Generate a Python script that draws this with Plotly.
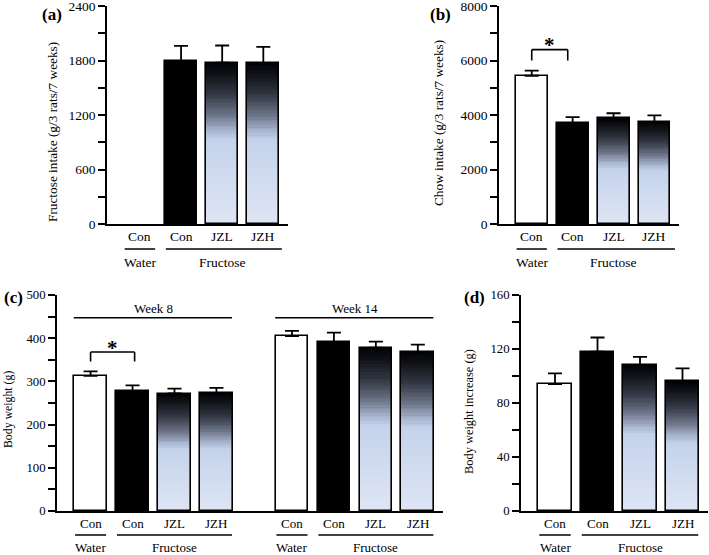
import plotly.graph_objects as go

# ---- data ----
cat_labels = ["Con", "Con", "JZL", "JZH"]
group_labels = ["Water", "Fructose"]
fills = ["white", "black", "grad", "grad"]

fructose_intake = [None, 1790, 1775, 1770]
fructose_err = [0, 172, 190, 180]

chow_intake = [5440, 3710, 3880, 3740]
chow_err = [185, 210, 185, 245]

bw_week8 = [313, 278, 272, 273]
bw_week8_err = [10, 13, 11.5, 12]
bw_week14 = [405, 391, 378, 368]
bw_week14_err = [12, 22, 14, 17]

bw_increase = [94, 118, 108, 96]
bw_increase_err = [8, 10.5, 6.2, 9.6]

ticks_a = [0, 300, 600, 900, 1200, 1500, 1800, 2100, 2400]
ticks_b = [0, 1000, 2000, 3000, 4000, 5000, 6000, 7000, 8000]
ticks_c = [0, 50, 100, 150, 200, 250, 300, 350, 400, 450, 500]
ticks_d = [0, 20, 40, 60, 80, 100, 120, 140, 160]

FONT = "Liberation Serif"
FS_TOP = 13.5
FS_BOT = 12.8
W, H = 709, 555

# gradient stops, t = 0 at top of bar, 1 at bottom
grad_stops = [
    (0.0, (2, 2, 6)),
    (0.08, (18, 20, 26)),
    (0.20, (52, 57, 69)),
    (0.32, (106, 114, 133)),
    (0.42, (168, 180, 206)),
    (0.48, (197, 210, 235)),
    (1.0, (222, 230, 244)),
]


def grad_color(t):
    for (t0, c0), (t1, c1) in zip(grad_stops[:-1], grad_stops[1:]):
        if t0 <= t <= t1:
            f = (t - t0) / (t1 - t0)
            c = [round(a + (b - a) * f) for a, b in zip(c0, c1)]
            return f"rgb({c[0]},{c[1]},{c[2]})"
    return "rgb(222,230,244)"


def px(x):
    # pixel from left -> paper x
    return x / W


def py(y):
    # pixel from top -> paper y
    return (H - y) / H


fig = go.Figure()
N_SEG = 60
BW = 0.78


def add_bars(xref, yref, xs, vals, errs):
    plain_cols = [f if f != "grad" else "rgba(0,0,0,0)" for f in fills]
    fig.add_trace(go.Bar(x=xs, y=vals, width=BW, xaxis=xref, yaxis=yref,
                         marker=dict(color=plain_cols, line=dict(width=0))))
    gx = [x for x, f, v in zip(xs, fills, vals) if f == "grad" and v is not None]
    gv = [v for f, v in zip(fills, vals) if f == "grad" and v is not None]
    for i in range(N_SEG):
        base = [v * i / N_SEG for v in gv]
        hgt = [min(v * 1.8 / N_SEG, v - b) for v, b in zip(gv, base)]
        t = 1 - (i + 0.5) / N_SEG
        fig.add_trace(go.Bar(x=gx, y=hgt, base=base, width=BW, xaxis=xref, yaxis=yref,
                             marker=dict(color=grad_color(t), line=dict(width=0))))
    fig.add_trace(go.Bar(
        x=xs, y=vals, width=BW, xaxis=xref, yaxis=yref,
        marker=dict(color="rgba(0,0,0,0)", line=dict(color="black", width=1.6)),
        error_y=dict(type="data", symmetric=False, array=errs,
                     arrayminus=[0] * len(errs), color="black", thickness=1.8, width=7),
    ))


pos4 = [0, 1, 2, 3]
pos_c1 = [0, 1, 2, 3]
pos_c2 = [4.8, 5.8, 6.8, 7.8]

add_bars("x", "y", pos4, fructose_intake, fructose_err)
add_bars("x2", "y2", pos4, chow_intake, chow_err)
add_bars("x3", "y3", pos_c1, bw_week8, bw_week8_err)
add_bars("x3", "y3", pos_c2, bw_week14, bw_week14_err)
add_bars("x4", "y4", pos4, bw_increase, bw_increase_err)


def xaxis(dom, rng, anchor):
    return dict(domain=dom, range=rng, anchor=anchor, showline=True, linecolor="black",
                linewidth=1.6, showticklabels=False, ticks="", showgrid=False,
                zeroline=False, automargin=False, fixedrange=True)


def yaxis(dom, anchor, ticks, step_label, size):
    txt = [str(t) if t % step_label == 0 else "" for t in ticks]
    return dict(domain=dom, anchor=anchor, range=[0, ticks[-1]], tickvals=ticks, ticktext=txt,
                showline=True, linecolor="black", linewidth=1.6, ticks="outside",
                ticklen=7, tickwidth=1.5, tickcolor="black", showgrid=False, zeroline=False,
                automargin=False, ticklabeloverflow="allow", fixedrange=True,
                tickfont=dict(family=FONT, size=size, color="black"))


fig.update_layout(
    width=W, height=H,
    margin=dict(l=0, r=0, t=0, b=0, autoexpand=False),
    paper_bgcolor="white", plot_bgcolor="rgba(0,0,0,0)",
    barmode="overlay", showlegend=False, bargap=0,
    xaxis=xaxis([px(107), px(288)], [-0.8, 3.6], "y"),
    yaxis=yaxis([py(224), py(6)], "x", ticks_a, 600, FS_TOP),
    xaxis2=xaxis([px(499), px(679)], [-0.8, 3.6], "y2"),
    yaxis2=yaxis([py(224), py(6)], "x2", ticks_b, 2000, FS_TOP),
    xaxis3=xaxis([px(57), px(443)], [-0.8, 8.4], "y3"),
    yaxis3=yaxis([py(511), py(295)], "x3", ticks_c, 100, FS_BOT),
    xaxis4=xaxis([px(521), px(708)], [-0.8, 3.6], "y4"),
    yaxis4=yaxis([py(511), py(295)], "x4", ticks_d, 40, FS_BOT),
)

ann = []
shapes = []


def txt(x, y, s, xref="paper", size=FS_TOP, bold=False, angle=0):
    ann.append(dict(x=x, y=y, xref=xref, yref="paper", text=f"<b>{s}</b>" if bold else s,
                    showarrow=False, textangle=angle, xanchor="center", yanchor="middle",
                    font=dict(family=FONT, size=size, color="black")))


def hline(xref, x0, x1, ypx, width=1.5):
    shapes.append(dict(type="line", xref=xref, yref="paper", x0=x0, x1=x1,
                       y0=py(ypx), y1=py(ypx), line=dict(color="black", width=width)))


def categories(xref, xs, ylab, yline, ygroup, right_ext, size):
    for x, lab in zip(xs, cat_labels):
        txt(x, py(ylab), lab, xref, size=size)
    hline(xref, xs[0] - 0.37, xs[0] + 0.37, yline)
    hline(xref, xs[1] - 0.37, xs[3] + right_ext, yline)
    txt(xs[0], py(ygroup), group_labels[0], xref, size=size)
    txt((xs[1] + xs[3]) / 2, py(ygroup), group_labels[1], xref, size=size)


categories("x", pos4, 237, 249, 262, 0.45, FS_TOP)
categories("x2", pos4, 237, 249, 262, 0.5, FS_TOP)
categories("x3", pos_c1, 523, 535, 547, 0.37, 13)
categories("x3", pos_c2, 523, 535, 547, 0.37, 13)
categories("x4", pos4, 523, 535, 547, 0.37, 13)

# week headers in (c)
txt(1.5, py(308), "Week 8", "x3", size=13)
hline("x3", -0.4, 3.37, 317.7)
txt(6.3, py(308), "Week 14", "x3", size=13)
hline("x3", 4.8 - 0.4, 7.8 + 0.37, 317.7)


# significance brackets
def bracket(xref, yref, x0, x1, ytop, ybot, ystar):
    for seg in [(x0, ybot, x0, ytop), (x0, ytop, x1, ytop), (x1, ytop, x1, ybot)]:
        shapes.append(dict(type="line", xref=xref, yref=yref, x0=seg[0], y0=seg[1],
                           x1=seg[2], y1=seg[3], line=dict(color="black", width=1.6)))
    ann.append(dict(x=(x0 + x1) / 2, y=ystar, xref=xref, yref=yref, text="<b>*</b>",
                    showarrow=False, yanchor="middle",
                    font=dict(family=FONT, size=21, color="black")))


bracket("x2", "y2", 0, 0.88, 6400, 6000, 6560)
bracket("x3", "y3", 0, 1.05, 368, 346, 378)

# axis titles
txt(px(52), py(132), "Fructose intake (g/3 rats/7 weeks)", size=13.3, angle=-90)
txt(px(439), py(123), "Chow intake (g/3 rats/7 weeks)", size=13.3, angle=-90)
txt(px(8), py(410), "Body weight (g)", size=11.8, angle=-90)
txt(px(469), py(412), "Body weight increase (g)", size=12.4, angle=-90)

# panel labels
txt(px(52), py(15), "(a)", size=17, bold=True)
txt(px(440), py(15), "(b)", size=17, bold=True)
txt(px(13), py(297), "(c)", size=17, bold=True)
txt(px(475), py(297), "(d)", size=17, bold=True)

fig.update_layout(annotations=ann, shapes=shapes)
# the page's default 8px body margin would shift the whole figure
fig.write_html("out.html", config={"displayModeBar": False},
               post_script="document.body.style.margin='0';")
